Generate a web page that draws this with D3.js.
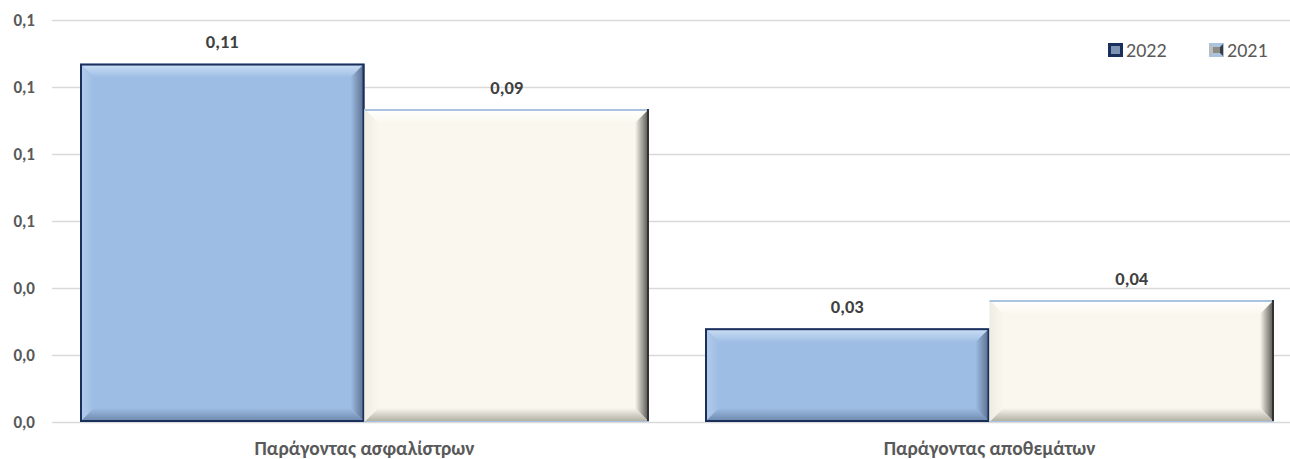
<!DOCTYPE html>
<html>
<head>
<meta charset="utf-8">
<script src="https://cdn.jsdelivr.net/npm/d3@7"></script>
<style>
  body { margin: 0; background: #fff; }
  text { font-family: Calibri, Carlito, "Open Sans", sans-serif; }
</style>
</head>
<body>
<div id="chart-area"></div>
<script>
// grouped bars with bevelled look
const categories = ["Παράγοντας ασφαλίστρων", "Παράγοντας αποθεμάτων"]
const seriesNames = ["2022", "2021"]
const values2022 = [0.107, 0.028]
const values2021 = [0.0934, 0.0364]
const yTicks = [0, 0.02, 0.04, 0.06, 0.08, 0.10, 0.12]

const W = 1290, H = 459
const MARGIN = { LEFT: 52, TOP: 20, BOTTOM: 37 }

const comma = f => v => d3.format(f)(v).replace(".", ",")

const svg = d3.select("#chart-area").append("svg")
    .attr("width", W).attr("height", H)

const x = d3.scaleBand()
    .domain(categories)
    .range([MARGIN.LEFT, 1302])
    .paddingInner(0.0896)
    .paddingOuter(0.0448)
const xs = d3.scaleBand().domain(seriesNames).range([0, x.bandwidth()])
const y = d3.scaleLinear().domain([0, 0.12]).range([H - MARGIN.BOTTOM, MARGIN.TOP])

// gridlines
svg.append("g").selectAll("line").data(yTicks).join("line")
    .attr("x1", MARGIN.LEFT).attr("x2", W)
    .attr("y1", d => Math.round(y(d)) + 0.5).attr("y2", d => Math.round(y(d)) + 0.5)
    .attr("stroke", "#d9d9d9").attr("stroke-width", 1.5)

// y axis labels
svg.append("g").selectAll("text").data(yTicks).join("text")
    .attr("x", 35).attr("y", d => y(d)).attr("dy", "0.35em")
    .attr("text-anchor", "end")
    .attr("font-size", 17).attr("font-weight", "bold").attr("fill", "#595959")
    .text(comma(".1f"))

const styles = {
    "2022": { fill: "#9ebde4", top: "#cfe1f6", left: "#b3cceb", right: "#566a88", bottom: "#6a84a8", edge: "#1b2f5c", topEdge: "#1b2f5c" },
    "2021": { fill: "#faf8ee", top: "#ffffff", left: "#efede2", right: "#4d4d48", bottom: "#aeac a0".replace(" ", ""), edge: "#333333", topEdge: "#a9c4e0" }
}

const defs = svg.append("defs")
function grad(id, c1, c2, dir) {
    const g = defs.append("linearGradient").attr("id", id)
    if (dir === "h") g.attr("x1", 0).attr("x2", 1).attr("y1", 0).attr("y2", 0)
    else g.attr("x1", 0).attr("x2", 0).attr("y1", 0).attr("y2", 1)
    g.append("stop").attr("offset", 0).attr("stop-color", c1)
    g.append("stop").attr("offset", 1).attr("stop-color", c2)
}
seriesNames.forEach(s => {
    const st = styles[s]
    grad("top" + s, st.top, st.fill, "v")
    grad("left" + s, st.left, st.fill, "h")
    grad("right" + s, st.fill, st.right, "h")
    grad("bottom" + s, st.fill, st.bottom, "v")
})

const bars = []
categories.forEach((c, i) => {
    bars.push({ cat: c, s: "2022", v: values2022[i] })
    bars.push({ cat: c, s: "2021", v: values2021[i] })
})

function drawBevel(g, x0, y0, w, h, s, b) {
    const st = styles[s]
    const x1 = x0 + w, y1 = y0 + h
    b = Math.min(b, w / 2, h / 2)
    g.append("rect").attr("x", x0).attr("y", y0).attr("width", w).attr("height", h).attr("fill", st.fill)
    const poly = (pts, f) => g.append("polygon").attr("points", pts.map(p => p.join(",")).join(" ")).attr("fill", f)
    poly([[x0, y0], [x1, y0], [x1 - b, y0 + b], [x0 + b, y0 + b]], `url(#top${s})`)
    poly([[x0, y0], [x0 + b, y0 + b], [x0 + b, y1 - b], [x0, y1]], `url(#left${s})`)
    poly([[x1, y0], [x1, y1], [x1 - b, y1 - b], [x1 - b, y0 + b]], `url(#right${s})`)
    poly([[x0, y1], [x0 + b, y1 - b], [x1 - b, y1 - b], [x1, y1]], `url(#bottom${s})`)
}

bars.forEach(d => {
    const st = styles[d.s]
    const x0 = x(d.cat) + xs(d.s), w = xs.bandwidth()
    const y0 = y(d.v), h = y(0) - y(d.v)
    const g = svg.append("g")
    drawBevel(g, x0, y0, w, h, d.s, 14)
    if (d.s === "2022") {
        g.append("rect").attr("x", x0 + 1).attr("y", y0 + 1).attr("width", w - 2).attr("height", h - 2)
            .attr("fill", "none").attr("stroke", st.edge).attr("stroke-width", 2)
    } else {
        g.append("line").attr("x1", x0).attr("x2", x0 + w).attr("y1", y0 + 1).attr("y2", y0 + 1)
            .attr("stroke", st.topEdge).attr("stroke-width", 2)
        g.append("line").attr("x1", x0 + w - 1).attr("x2", x0 + w - 1).attr("y1", y0).attr("y2", y0 + h)
            .attr("stroke", st.edge).attr("stroke-width", 2)
        g.append("line").attr("x1", x0).attr("x2", x0 + w).attr("y1", y0 + h - 0.5).attr("y2", y0 + h - 0.5)
            .attr("stroke", "#a9c4e0").attr("stroke-width", 1)
    }
    svg.append("text")
        .attr("x", x0 + w / 2).attr("y", y0 - 22).attr("dy", "0.35em")
        .attr("text-anchor", "middle")
        .attr("font-size", 18.5).attr("font-weight", "bold").attr("fill", "#404040")
        .text(comma(".2f")(d.v))
})

// category labels
svg.append("g").selectAll("text").data(categories).join("text")
    .attr("x", d => x(d) + x.bandwidth() / 2).attr("y", 455)
    .attr("text-anchor", "middle")
    .attr("font-size", 19.5).attr("font-weight", "bold").attr("fill", "#595959")
    .text(d => d)

// legend
const legendX = [1108, 1209]
seriesNames.forEach((s, i) => {
    const g = svg.append("g").attr("transform", `translate(${legendX[i]},43)`)
    if (s === "2022") {
        g.append("rect").attr("x", 0).attr("y", 0).attr("width", 15).attr("height", 14).attr("fill", "#1b2f5c")
        g.append("rect").attr("x", 3).attr("y", 3).attr("width", 9).attr("height", 8).attr("fill", "#7d93b3")
    } else {
        g.append("rect").attr("x", 0).attr("y", 0).attr("width", 15).attr("height", 14).attr("fill", "#a9c4e0")
        g.append("polygon").attr("points", "1,1 8,7 1,13").attr("fill", "#bdbdb5")
        g.append("polygon").attr("points", "14,1 8,7 14,13").attr("fill", "#3c3c3c")
        g.append("rect").attr("x", 4).attr("y", 4).attr("width", 7).attr("height", 6).attr("fill", "#8c8c86")
    }
    g.append("text").attr("x", 18).attr("y", 7).attr("dy", "0.35em")
        .attr("font-size", 20).attr("fill", "#595959").text(s)
})
</script>
</body>
</html>
